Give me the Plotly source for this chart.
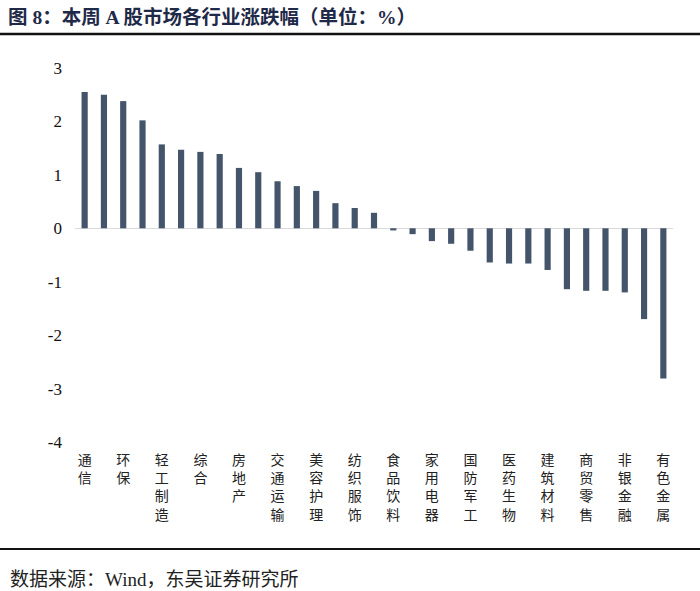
import plotly.graph_objects as go

categories = ["通信", "计算机", "环保", "传媒", "轻工制造", "电子", "综合", "社会服务",
              "房地产", "建筑装饰", "交通运输", "公用事业", "美容护理", "农林牧渔", "纺织服饰",
              "基础化工", "食品饮料", "机械设备", "家用电器", "汽车", "国防军工", "电力设备",
              "医药生物", "银行", "建筑材料", "钢铁", "商贸零售", "石油石化", "非银金融",
              "煤炭", "有色金属"]
values = [2.55, 2.50, 2.38, 2.02, 1.57, 1.47, 1.43, 1.39, 1.13, 1.05, 0.88, 0.79, 0.70,
          0.47, 0.38, 0.29, -0.04, -0.11, -0.24, -0.29, -0.42, -0.64, -0.66, -0.66, -0.78,
          -1.14, -1.17, -1.17, -1.20, -1.70, -2.81]
y_ticks = [3, 2, 1, 0, -1, -2, -3, -4]

title_text = "图 8：本周 A 股市场各行业涨跌幅（单位：%）"
source_text = "数据来源：Wind，东吴证券研究所"

W, H = 700, 591
L, R, T, B = 75, 27, 68, 149
PW, PH = W - L - R, H - T - B


def px(x):
    return (x - L) / PW


def py(y):
    return (H - B - y) / PH


shown = categories[::2]
tick_text = ["<br>".join(list(c)) for c in shown]

fig = go.Figure()
fig.add_trace(go.Bar(x=categories, y=values, marker=dict(color="#44546a", line=dict(width=0)),
                     width=0.32))

fig.update_layout(
    width=W, height=H,
    margin=dict(l=L, r=R, t=T, b=B, autoexpand=False),
    paper_bgcolor="white", plot_bgcolor="white",
    showlegend=False,
    title=dict(text=title_text, x=8 / W, xanchor="left", y=1 - 17 / H, yanchor="middle",
               font=dict(family="Liberation Serif, Noto Sans CJK SC", size=19.5, color="#1f2a48",
                         weight="bold")),
    xaxis=dict(type="category", tickmode="array", tickvals=shown, ticktext=tick_text,
               showline=False, showgrid=False, ticks="", tickangle=0,
               ticklabelstandoff=8,
               tickfont=dict(family="Noto Sans CJK SC", size=14, color="#222222")),
    yaxis=dict(range=[-4, 3], tickmode="array", tickvals=y_ticks,
               ticktext=[str(v) for v in y_ticks],
               showgrid=False, showline=False, ticks="",
               zeroline=True, zerolinecolor="#d9d9d9", zerolinewidth=1,
               ticklabelstandoff=12,
               tickfont=dict(family="Liberation Serif", size=17, color="#111111")),
    annotations=[dict(text=source_text, xref="paper", yref="paper", x=px(8), y=py(579),
                      xanchor="left", yanchor="middle", showarrow=False,
                      font=dict(family="Liberation Serif, Noto Sans CJK SC", size=19,
                                color="#222222"))],
    shapes=[
        dict(type="line", xref="paper", yref="paper", x0=px(0), x1=px(W), y0=py(34), y1=py(34),
             line=dict(color="#111111", width=2.5)),
        dict(type="line", xref="paper", yref="paper", x0=px(0), x1=px(W), y0=py(549), y1=py(549),
             line=dict(color="#111111", width=2)),
    ],
)

fig.write_html("out.html", config={"displayModeBar": False},
               post_script="document.body.style.margin='0';document.body.style.overflow='hidden';")
